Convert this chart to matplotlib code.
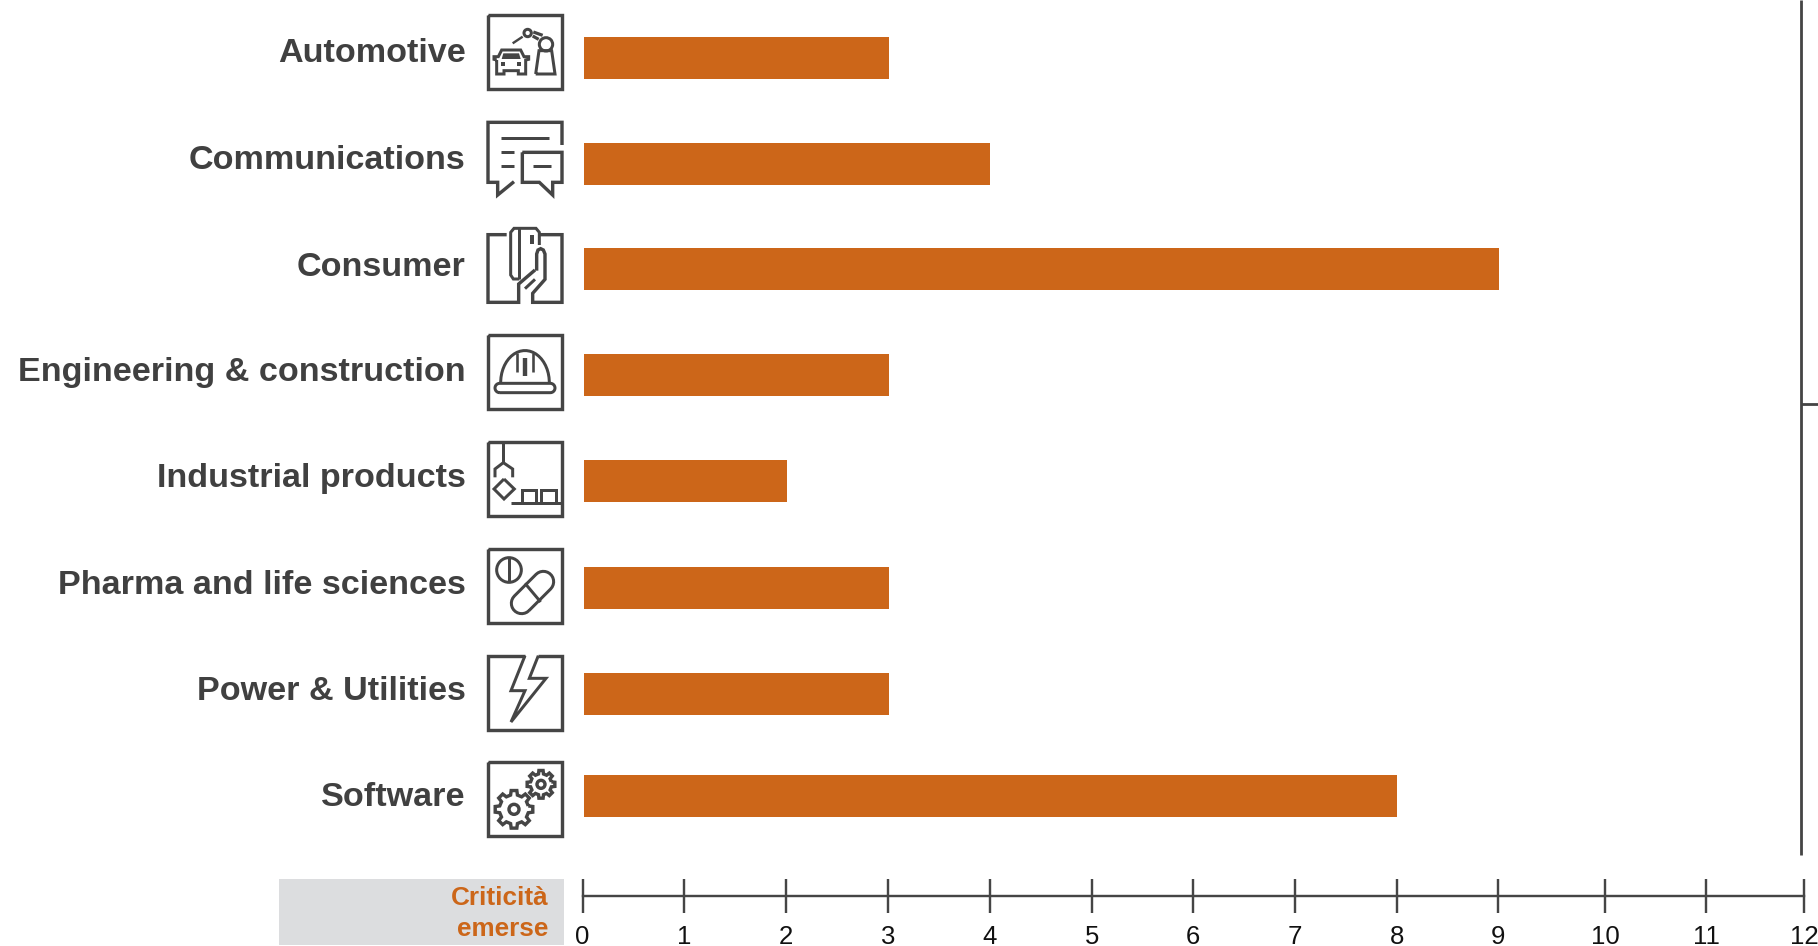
import numpy as np
import matplotlib
matplotlib.use("Agg")
import matplotlib.pyplot as plt
from matplotlib.patches import Rectangle, Circle, Polygon

# Sector counts
sectors = ["Automotive", "Communications", "Consumer", "Engineering & construction",
           "Industrial products", "Pharma and life sciences", "Power & Utilities", "Software"]
issues = [3, 4, 9, 3, 2, 3, 3, 8]
tick_labels = ["0", "1", "2", "3", "4", "5", "6", "7", "8", "9", "10", "11", "12"]
tick_locs = [-0.012, 0.99, 1.99, 2.99, 3.995, 4.995, 5.995, 6.995, 8, 8.995, 10.045, 11.04, 12]

# Layout, in figure pixels measured from the top
W, H = 1818, 946
row_centres = [58, 163.7, 269, 375, 481, 588, 694, 796]
label_centres = [54, 160.5, 267, 373, 479, 585, 691.5, 797]
BAR_H = 42
AX_LEFT, AX_RIGHT, AX_BASE = 582.5, 1804, 895.7
X_MIN, X_MAX = -0.012, 12

ORANGE = "#cc6619"
DARK = "#454545"
TEXT = "#404040"
PX = 0.72  # points per pixel at 100 dpi

plt.rcParams["font.family"] = ["Liberation Sans", "DejaVu Sans"]
fig = plt.figure(figsize=(W / 100, H / 100), dpi=100, facecolor="white")

# Bars and value axis
ax = fig.add_axes([AX_LEFT / W, 1 - AX_BASE / H, (AX_RIGHT - AX_LEFT) / W, AX_BASE / H])
ax.set_xlim(X_MIN, X_MAX)
ax.set_ylim(AX_BASE, 0)
ax.patch.set_alpha(0)
ax.barh(row_centres, issues, height=BAR_H, color=ORANGE, left=0, zorder=2)
for s in ("top", "left", "right"):
    ax.spines[s].set_visible(False)
ax.spines["bottom"].set_color(DARK)
ax.spines["bottom"].set_linewidth(2.4 * PX)
ax.set_yticks([])
ax.set_xticks(tick_locs, tick_labels)
ax.set_xlim(X_MIN, X_MAX)
ax.tick_params(axis="x", direction="inout", length=34 * PX, width=2.4 * PX, color=DARK,
               labelsize=18.5, labelcolor="#111111", pad=12 * PX)
for tick in ax.xaxis.get_major_ticks():
    tick.tick1line.set_clip_on(False)
    tick.label1.set_clip_on(False)

for name, yc in zip(sectors, label_centres):
    ax.annotate(name, xy=(0, yc), xycoords=("axes fraction", "data"),
                xytext=((465.5 - AX_LEFT) * PX, 0), textcoords="offset points",
                ha="right", va="center", fontsize=24.6, fontweight="bold", color=TEXT)

# Overlay in pixel coordinates for the pictograms and furniture
ov = fig.add_axes([0, 0, 1, 1], zorder=-1)
ov.set_xlim(0, W)
ov.set_ylim(H, 0)
ov.axis("off")

ov.add_patch(Rectangle((279, 879), 285, 66, facecolor="#dcdddf", edgecolor="none"))
ov.text(548, 898, "Criticità", ha="right", va="center", fontsize=18.8, fontweight="bold", color=ORANGE)
ov.text(548, 929, "emerse", ha="right", va="center", fontsize=18.8, fontweight="bold", color=ORANGE)
ov.plot([1801, 1801], [0, 855], color=DARK, lw=2.8 * PX, solid_capstyle="butt")
ov.plot([1801, 1818], [403.5, 403.5], color=DARK, lw=2.8 * PX, solid_capstyle="butt")


class Icon:
    """Draws strokes given in a 3x local grid anchored at a pixel origin."""

    def __init__(self, ox, oy):
        self.ox, self.oy = ox, oy

    def xy(self, pts):
        p = np.asarray(pts, dtype=float)
        return self.ox + p[:, 0] / 3, self.oy + p[:, 1] / 3

    def line(self, pts, lw=3.0, closed=False):
        if closed:
            pts = list(pts) + [pts[0]]
        x, y = self.xy(pts)
        ov.plot(x, y, color=DARK, lw=lw * PX, solid_joinstyle="miter", solid_capstyle="butt")

    def fill(self, pts):
        x, y = self.xy(pts)
        ov.add_patch(Polygon(np.c_[x, y], closed=True, facecolor=DARK, edgecolor="none"))

    def circle(self, cx, cy, r, lw=3.0):
        ov.add_patch(Circle((self.ox + cx / 3, self.oy + cy / 3), r / 3, fill=False,
                            edgecolor=DARK, lw=lw * PX))

    def frame(self, top):
        self.line([(54, top), (276, top), (276, top + 222), (54, top + 222)], lw=3.4, closed=True)


def arc(cx, cy, r, a0, a1, n=14, squash=1.0):
    t = np.radians(np.linspace(a0, a1, n))
    return list(zip(cx + r * np.cos(t), cy + squash * r * np.sin(t)))


def gear(cx, cy, r_out, r_in, teeth):
    pts = []
    step = 360 / teeth
    for k in range(teeth):
        a = k * step
        for da, r in ((-0.30, r_in), (-0.19, r_out), (0.19, r_out), (0.30, r_in)):
            t = np.radians(a + da * step)
            pts.append((cx + r * np.cos(t), cy + r * np.sin(t)))
    return pts


# Automotive
ic = Icon(470, 0)
ic.frame(46)
ic.line([(197, 222), (207, 152), (245, 152), (255, 222)], closed=True)
ic.circle(228, 133, 20)
ic.line([(190, 96), (218, 106)], lw=3.2)
ic.line([(188, 108), (206, 118)], lw=3.2)
ic.circle(173, 99, 11)
ic.line([(158, 110), (128, 130)], lw=2.4)
ic.line([(80, 180), (72, 178), (72, 170), (85, 170), (95, 150), (152, 150), (162, 170),
         (176, 170), (176, 178), (167, 180), (167, 222), (145, 222), (145, 212), (102, 212),
         (102, 222), (80, 222)], closed=True)
ic.fill([(100, 160), (147, 160), (152, 177), (95, 177)])
ic.fill([(94, 187), (106, 187), (106, 198), (94, 198)])
ic.fill([(140, 187), (152, 187), (152, 198), (140, 198)])

# Communications
ic = Icon(470, 0)
ic.line([(276, 435), (276, 367), (54, 367), (54, 547), (83, 547), (83, 585), (132, 545)], lw=3.4)
ic.line([(92, 415), (237, 415)])
ic.line([(92, 457), (133, 457)])
ic.line([(92, 497), (133, 497)])
ic.line([(190, 497), (243, 497)])
ic.line([(157, 457), (276, 457), (276, 547), (248, 547), (248, 585), (208, 547), (157, 547)],
        lw=3.4, closed=True)

# Consumer
ic = Icon(470, 0)
ic.line([(110, 704), (54, 704), (54, 907), (146, 907), (146, 852), (195, 810)], lw=3.4)
ic.line([(210, 704), (276, 704), (276, 907), (188, 907), (188, 880), (225, 838), (225, 762),
         (220, 750), (212, 746), (204, 750), (200, 762), (200, 812)], lw=3.4)
ic.line([(208, 735), (208, 697), (198, 685), (132, 685), (122, 697), (122, 825), (130, 837),
         (148, 837)])
ic.line([(147, 685), (147, 837)])
ic.fill([(180, 705), (192, 705), (192, 732), (180, 732)])
ic.line([(165, 866), (195, 838)])

# Engineering & construction
ic = Icon(470, 320)
ic.frame(46)
ic.line(arc(89, 204, 14, 90, 270) + arc(241, 204, 14, -90, 90), closed=True)
ic.line([(92, 190)] + arc(165, 188, 73, 182, 358, n=24, squash=1.32) + [(238, 190)])
ic.line([(165, 115), (165, 168)], lw=4.4)
ic.line([(140, 100), (140, 155)], lw=2.6)
ic.line([(188, 100), (188, 155)], lw=2.6)

# Industrial products
ic = Icon(470, 320)
ic.frame(367)
ic.line([(100, 367), (100, 428)])
ic.line([(75, 472), (75, 447), (100, 428), (128, 447), (128, 472)])
ic.line([(102, 477), (133, 507), (102, 537), (72, 507)], closed=True)
ic.line([(122, 550), (276, 550)])
ic.line([(155, 550), (155, 510), (197, 510), (197, 550)])
ic.line([(213, 550), (213, 510), (257, 510), (257, 550)])

# Pharma and life sciences
ic = Icon(470, 320)
ic.frame(687)
ic.circle(117, 750, 37)
ic.line([(117, 713), (117, 787)])
ic.line(arc(155, 850, 31, 45, 225) + arc(220, 785, 31, -135, 45), closed=True)
ic.line([(165, 790), (212, 846)])

# Power & Utilities
ic = Icon(470, 640)
ic.line([(165, 47), (54, 47), (54, 269), (276, 269), (276, 47), (205, 47)], lw=3.4)
ic.line([(165, 47), (123, 152), (165, 152), (123, 246), (228, 115), (178, 115), (205, 47)], lw=3.0)

# Software
ic = Icon(470, 640)
ic.frame(367)
ic.line(gear(132, 508, 57, 44, 8), lw=3.4, closed=True)
ic.circle(132, 508, 15, lw=3.4)
ic.line(gear(213, 433, 42, 32, 8), lw=3.4, closed=True)
ic.circle(213, 433, 12, lw=3.4)

fig.savefig("out.png", dpi=100, facecolor="white")
